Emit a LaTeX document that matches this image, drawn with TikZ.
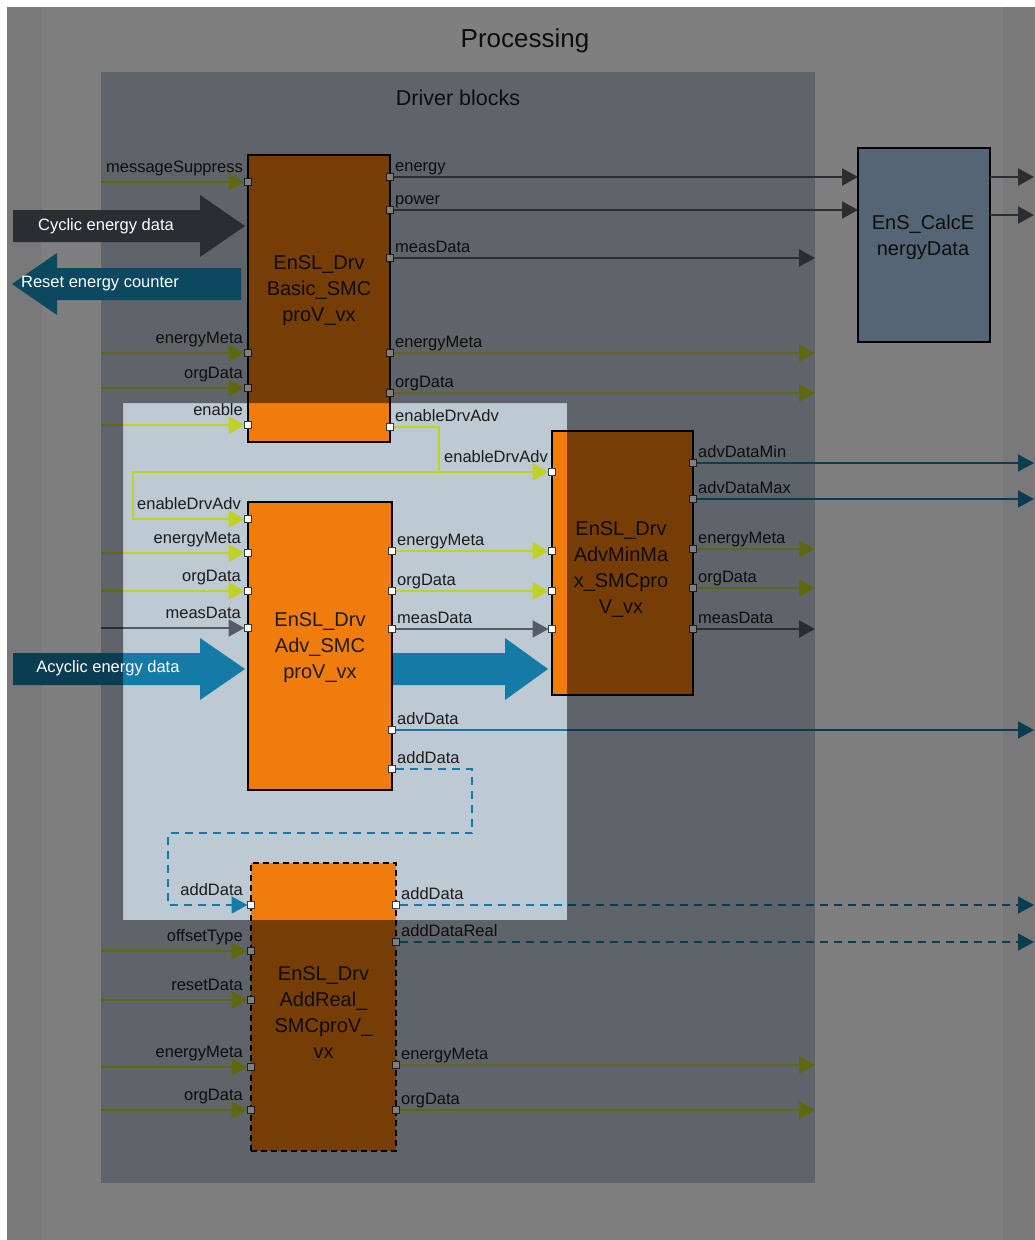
\documentclass[tikz,border=0pt]{standalone}
\usepackage{fontspec}
\setmainfont{Liberation Sans}
\usetikzlibrary{arrows.meta}

\definecolor{rimgray}{RGB}{244, 244, 244}
\definecolor{drvbg}{RGB}{189, 201, 211}
\definecolor{drvorange}{RGB}{240, 124, 14}
\definecolor{calcblue}{RGB}{172, 204, 236}
\definecolor{wiregreen}{RGB}{192, 210, 34}
\definecolor{wiredark}{RGB}{86, 92, 102}
\definecolor{wireblue}{RGB}{22, 122, 166}
\definecolor{resetblue}{RGB}{26, 146, 194}
\definecolor{txtdark}{RGB}{28, 28, 28}
\definecolor{portedge}{RGB}{60, 60, 60}

\newcommand\lblfont{\fontsize{16.5}{19}\selectfont}
\newcommand\blkfont{\fontsize{20}{26}\selectfont}

\begin{document}
\begin{tikzpicture}[x=1pt, y=-1pt,
    >={Triangle[length=16pt, width=17pt]},
    panel/.style={inner sep=0pt, outer sep=0pt},
    drvblock/.style={draw=black, line width=1.6pt, fill=drvorange,
                     inner sep=0pt, outer sep=0pt},
    calcblock/.style={drvblock, fill=calcblue},
    port/.style={draw=portedge, fill=white, line width=0.8pt,
                 minimum size=7pt, inner sep=0pt, outer sep=0pt},
    greenwire/.style={draw=wiregreen, line width=2.8pt, ->},
    darkwire/.style={draw=wiredark, line width=2.4pt, ->},
    bluewire/.style={draw=wireblue, line width=1.8pt, ->},
    bluedash/.style={bluewire, line width=2pt, dash pattern=on 8pt off 6pt},
    inlbl/.style={font=\lblfont, text=txtdark, anchor=base east, inner sep=0pt},
    outlbl/.style={font=\lblfont, text=txtdark, anchor=base west, inner sep=0pt},
    blktext/.style={font=\blkfont, text=txtdark, align=center, inner sep=0pt},
    arrtext/.style={font=\lblfont, text=white, inner sep=0pt},
]

% ================================================================
% BACKGROUND AND PANELS
% ================================================================
\fill[white] (0,0) rectangle (1035,1240);
\useasboundingbox (0,0) rectangle (1035,1240);
\fill[rimgray] (7,7) rectangle (1035,1240);

\node[panel, fill=white, minimum width=961pt, minimum height=1233pt]
  (proc) at (522.5,623.5) {};
\node[font=\fontsize{26}{30}\selectfont, text=txtdark, anchor=base]
  (proctitle) at (525,47) {Processing};

\node[panel, fill=drvbg, minimum width=714pt, minimum height=1111pt]
  (drv) at (458,627.5) {};
\node[font=\fontsize{21.5}{25}\selectfont, text=txtdark, anchor=base]
  (drvtitle) at (458,105) {Driver blocks};

\coordinate (rim) at (1034,0);

% ================================================================
% BIG DATA ARROWS
% ================================================================
\fill[wiredark] (13,210) -- (200,210) -- (200,195) -- (245,226)
  -- (200,257) -- (200,242) -- (13,242) -- cycle;
\fill[resetblue] (241,268) -- (57,268) -- (57,253) -- (12,284)
  -- (57,315) -- (57,300) -- (241,300) -- cycle;
\fill[wireblue] (13,653) -- (200,653) -- (200,638) -- (245,669)
  -- (200,700) -- (200,685) -- (13,685) -- cycle;
\fill[wireblue] (393,653) -- (505,653) -- (505,638) -- (548,669)
  -- (505,700) -- (505,685) -- (393,685) -- cycle;

% ================================================================
% BLOCKS
% ================================================================
\node[drvblock, minimum width=142pt, minimum height=287pt] (basic) at (319,298.5) {};
\node[drvblock, minimum width=144pt, minimum height=288pt] (adv) at (320,646) {};
\node[drvblock, minimum width=141pt, minimum height=264pt] (minmax) at (622.5,563) {};
\node[drvblock, dash pattern=on 6pt off 4pt, minimum width=145pt,
      minimum height=288pt] (addreal) at (323.5,1007) {};
\node[calcblock, minimum width=132pt, minimum height=194pt] (calc) at (924,245) {};

\node[blktext] (basic-txt) at (319,291) {EnSL\_Drv\\Basic\_SMC\\proV\_vx};
\node[blktext] (adv-txt) at (320,648) {EnSL\_Drv\\Adv\_SMC\\proV\_vx};
\node[blktext] (minmax-txt) at (621,569) {EnSL\_Drv\\AdvMinMa\\x\_SMCpro\\V\_vx};
\node[blktext] (addreal-txt) at (323.5,1013) {EnSL\_Drv\\AddReal\_\\SMCproV\_\\vx};
\node[blktext] (calc-txt) at (923,237) {EnS\_CalcE\\nergyData};

% ================================================================
% PORTS AND PORT LABELS
% ================================================================
\foreach \py/\txt [count=\i] in {182/messageSuppress, 353/energyMeta,
    388/orgData, 425/enable} {
  \node[port] (bas-in\i) at (248,\py) {};
  \node[inlbl] (bas-in\i-lbl) at ([xshift=-5pt, yshift=10pt]bas-in\i.center) {\txt};
}
\foreach \py/\txt [count=\i] in {177/energy, 210/power, 258/measData,
    353/energyMeta, 393/orgData, 427/enableDrvAdv} {
  \node[port] (bas-out\i) at (390,\py) {};
  \node[outlbl] (bas-out\i-lbl) at ([xshift=5pt, yshift=6pt]bas-out\i.center) {\txt};
}

\foreach \py/\txt [count=\i] in {519/enableDrvAdv, 553/energyMeta,
    591/orgData, 628/measData} {
  \node[port] (adv-in\i) at (248,\py) {};
  \node[inlbl] (adv-in\i-lbl) at ([xshift=-7pt, yshift=10pt]adv-in\i.center) {\txt};
}
\foreach \py/\txt [count=\i] in {551/energyMeta, 591/orgData, 629/measData,
    730/advData, 769/addData} {
  \node[port] (adv-out\i) at (392,\py) {};
  \node[outlbl] (adv-out\i-lbl) at ([xshift=5pt, yshift=6pt]adv-out\i.center) {\txt};
}

\foreach \py [count=\i] in {472, 551, 591, 629} {
  \node[port] (mm-in\i) at (552,\py) {};
}
\node[inlbl] (mm-in1-lbl) at ([xshift=-4pt, yshift=10pt]mm-in1.center) {enableDrvAdv};
\foreach \py/\txt [count=\i] in {463/advDataMin, 499/advDataMax,
    549/energyMeta, 588/orgData, 629/measData} {
  \node[port] (mm-out\i) at (693,\py) {};
  \node[outlbl] (mm-out\i-lbl) at ([xshift=5pt, yshift=6pt]mm-out\i.center) {\txt};
}

\foreach \py/\txt [count=\i] in {905/addData, 951/offsetType, 1000/resetData,
    1067/energyMeta, 1110/orgData} {
  \node[port] (ar-in\i) at (251,\py) {};
  \node[inlbl] (ar-in\i-lbl) at ([xshift=-8pt, yshift=10pt]ar-in\i.center) {\txt};
}
\foreach \py/\txt [count=\i] in {905/addData, 942/addDataReal,
    1065/energyMeta, 1110/orgData} {
  \node[port] (ar-out\i) at (396,\py) {};
  \node[outlbl] (ar-out\i-lbl) at ([xshift=5pt, yshift=6pt]ar-out\i.center) {\txt};
}

\coordinate (calc-out1) at (990,177);
\coordinate (calc-out2) at (990,215);

% ================================================================
% WIRES
% ================================================================
% inputs from the left panel edge
\foreach \p in {bas-in1, bas-in2, bas-in3, bas-in4, adv-in2, adv-in3,
    ar-in2, ar-in3, ar-in4, ar-in5}
  \draw[greenwire] (drv.west |- \p) -- (\p.west);
\draw[darkwire] (drv.west |- adv-in4) -- (adv-in4.west);

% EnSL_DrvBasic outputs
\draw[darkwire] (bas-out1.east) -- (calc.west |- bas-out1);
\draw[darkwire] (bas-out2.east) -- (calc.west |- bas-out2);
\draw[darkwire] (bas-out3.east) -- (drv.east |- bas-out3);
\draw[greenwire] (bas-out4.east) -- (drv.east |- bas-out4);
\draw[greenwire] (bas-out5.east) -- (drv.east |- bas-out5);

% enableDrvAdv fork
\coordinate (fork) at (439,472);
\coordinate (wrap) at (133,472);
\draw[greenwire, -] (bas-out6.east) -| (fork);
\draw[greenwire] (fork) -- (mm-in1.west);
\draw[greenwire] (fork) -- (wrap) |- (adv-in1.west);

% EnSL_DrvAdv outputs
\draw[greenwire] (adv-out1.east) -- (mm-in2.west);
\draw[greenwire] (adv-out2.east) -- (mm-in3.west);
\draw[darkwire] (adv-out3.east) -- (mm-in4.west);
\draw[bluewire] (adv-out4.east) -- (rim |- adv-out4);

% addData loop
\coordinate (dturn1) at (472,833);
\coordinate (dturn2) at (168,833);
\draw[bluedash] (adv-out5.east) -| (dturn1) -- (dturn2) |- (ar-in1.west);

% EnSL_DrvAdvMinMax outputs
\draw[bluewire] (mm-out1.east) -- (rim |- mm-out1);
\draw[bluewire] (mm-out2.east) -- (rim |- mm-out2);
\draw[greenwire] (mm-out3.east) -- (drv.east |- mm-out3);
\draw[greenwire] (mm-out4.east) -- (drv.east |- mm-out4);
\draw[darkwire] (mm-out5.east) -- (drv.east |- mm-out5);

% EnSL_DrvAddReal outputs
\draw[bluedash] (ar-out1.east) -- (rim |- ar-out1);
\draw[bluedash] (ar-out2.east) -- (rim |- ar-out2);
\draw[greenwire] (ar-out3.east) -- (drv.east |- ar-out3);
\draw[greenwire] (ar-out4.east) -- (drv.east |- ar-out4);

% EnS_CalcEnergyData outputs
\draw[darkwire] (calc-out1) -- (rim |- calc-out1);
\draw[darkwire] (calc-out2) -- (rim |- calc-out2);

% ================================================================
% DIMMING OVERLAY (all but the highlighted area)
% ================================================================
\fill[black, fill opacity=0.5, even odd rule]
  (7,7) rectangle (1035,1240) (123,403) rectangle (567,920);

% texts on the big arrows stay bright
\node[arrtext] (cyc-txt) at (106,226) {Cyclic energy data};
\node[arrtext] (reset-txt) at (100,284) {Reset energy counter};
\node[arrtext] (acyc-txt) at (108,668) {Acyclic energy data};

\end{tikzpicture}
\end{document}
